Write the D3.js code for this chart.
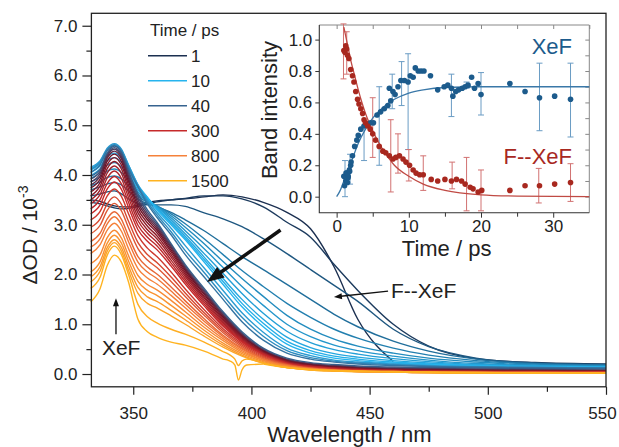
<!DOCTYPE html>
<html>
<head>
<meta charset="utf-8">
<script src="https://cdn.jsdelivr.net/npm/d3@7"></script>
<style>
body { margin: 0; background: #fff; }
svg { font-family: "Liberation Sans", Arial, sans-serif; }
</style>
</head>
<body>
<svg id="chart"></svg>
<script>
// ---- main panel: transient spectra ----
let wavelengths = [332, 336, 339, 342, 345, 348, 352, 356, 360, 366, 372, 380, 388, 396, 405, 415, 425, 435, 445, 460, 475, 495, 520, 550]

let delays = [1, 1.2, 2,
    3, 4, 5, 6, 7, 8, 9, 10, 15, 20, 30,
    40, 50, 65, 80, 100, 125, 150, 180, 220, 260, 300,
    350, 420, 500, 600, 700, 800,
    900, 1000, 1100, 1250, 1400, 1500]

let spectra = [
    [3.50,3.47,3.42,3.38,3.36,3.36,3.40,3.45,3.48,3.50,3.52,3.56,3.60,3.56,3.45,3.25,2.92,2.15,1.10,0.25,null,null,null,null],
    [3.45,3.42,3.38,3.34,3.32,3.33,3.37,3.42,3.46,3.50,3.53,3.58,3.58,3.52,3.36,3.05,2.75,2.20,1.68,1.00,0.56,0.31,0.23,0.20],
    [3.58,3.62,3.66,3.68,3.62,3.52,3.43,3.40,3.40,3.40,3.37,3.24,3.12,2.96,2.72,2.42,2.10,1.78,1.46,0.90,0.55,0.32,0.22,0.19],
    [3.70,3.76,3.82,3.85,3.80,3.68,3.52,3.42,3.36,3.25,3.10,2.88,2.62,2.36,2.10,1.80,1.50,1.20,0.95,0.66,0.46,0.30,0.21,0.18],
    [3.78,3.86,3.95,3.98,3.92,3.78,3.58,3.45,3.38,3.22,3.02,2.72,2.40,2.08,1.76,1.42,1.14,0.90,0.72,0.52,0.38,0.27,0.20,0.17],
    [3.86,3.96,4.08,4.12,4.05,3.88,3.62,3.48,3.38,3.18,2.95,2.62,2.26,1.92,1.56,1.18,0.90,0.70,0.56,0.42,0.32,0.24,0.18,0.16],
    [3.93,4.05,4.20,4.25,4.16,3.96,3.66,3.50,3.37,3.14,2.88,2.52,2.14,1.76,1.38,1.00,0.75,0.58,0.47,0.36,0.28,0.21,0.17,0.15],
    [3.99,4.12,4.29,4.35,4.26,4.04,3.70,3.52,3.36,3.10,2.82,2.42,2.02,1.62,1.22,0.86,0.63,0.49,0.40,0.31,0.25,0.19,0.16,0.14],
    [4.05,4.18,4.37,4.44,4.34,4.10,3.74,3.54,3.34,3.06,2.77,2.35,1.92,1.50,1.10,0.74,0.53,0.41,0.34,0.27,0.22,0.18,0.15,0.14],
    [4.10,4.23,4.44,4.52,4.42,4.15,3.77,3.55,3.32,3.03,2.73,2.30,1.86,1.42,1.02,0.66,0.47,0.36,0.30,0.24,0.20,0.17,0.14,0.13],
    [4.14,4.27,4.51,4.60,4.49,4.20,3.80,3.55,3.30,3.00,2.70,2.25,1.80,1.35,0.95,0.60,0.42,0.32,0.27,0.22,0.19,0.16,0.14,0.13],
    [4.16,4.29,4.54,4.63,4.52,4.20,3.80,3.50,3.25,2.93,2.58,2.13,1.68,1.23,0.84,0.52,0.37,0.28,0.24,0.20,0.17,0.15,0.13,0.12],
    [4.12,4.26,4.52,4.61,4.50,4.17,3.78,3.46,3.20,2.86,2.48,2.04,1.58,1.14,0.76,0.47,0.33,0.26,0.22,0.19,0.16,0.14,0.13,0.12],
    [4.06,4.21,4.49,4.59,4.47,4.13,3.76,3.42,3.15,2.80,2.40,1.95,1.50,1.05,0.68,0.42,0.30,0.24,0.20,0.17,0.15,0.14,0.13,0.12],
    [3.98,4.12,4.44,4.58,4.45,4.08,3.62,3.30,3.05,2.62,2.20,1.72,1.25,0.85,0.52,0.32,0.23,0.19,0.16,0.14,0.13,0.12,0.11,0.10],
    [3.92,4.08,4.41,4.55,4.41,4.03,3.56,3.25,3.01,2.59,2.17,1.69,1.22,0.82,0.50,0.30,0.21,0.17,0.14,0.12,0.11,0.10,0.09,0.08],
    [3.86,4.03,4.38,4.52,4.37,3.98,3.50,3.20,2.97,2.56,2.14,1.66,1.19,0.80,0.48,0.29,0.20,0.16,0.13,0.11,0.10,0.09,0.08,0.07],
    [3.80,3.98,4.34,4.48,4.33,3.93,3.44,3.15,2.93,2.53,2.11,1.63,1.17,0.78,0.47,0.28,0.19,0.15,0.12,0.10,0.09,0.08,0.07,0.06],
    [3.74,3.92,4.28,4.42,4.27,3.87,3.38,3.10,2.89,2.49,2.08,1.60,1.14,0.76,0.46,0.27,0.18,0.14,0.11,0.09,0.08,0.07,0.06,0.06],
    [3.66,3.85,4.21,4.35,4.20,3.80,3.31,3.04,2.84,2.45,2.04,1.56,1.11,0.74,0.44,0.26,0.17,0.13,0.10,0.08,0.07,0.06,0.06,0.05],
    [3.58,3.78,4.13,4.27,4.12,3.72,3.24,2.97,2.78,2.40,2.00,1.53,1.08,0.72,0.43,0.25,0.16,0.12,0.10,0.08,0.07,0.06,0.05,0.05],
    [3.50,3.70,4.04,4.18,4.03,3.64,3.16,2.90,2.72,2.35,1.96,1.49,1.05,0.70,0.42,0.24,0.16,0.12,0.09,0.07,0.06,0.05,0.05,0.04],
    [3.42,3.61,3.94,4.08,3.93,3.55,3.08,2.83,2.65,2.29,1.91,1.45,1.02,0.68,0.41,0.23,0.15,0.11,0.09,0.07,0.06,0.05,0.04,0.04],
    [3.32,3.51,3.83,3.97,3.82,3.45,2.99,2.75,2.58,2.23,1.86,1.41,0.99,0.66,0.40,0.22,0.15,0.11,0.08,0.07,0.06,0.05,0.04,0.04],
    [3.22,3.40,3.72,3.86,3.71,3.35,2.90,2.67,2.50,2.17,1.81,1.37,0.96,0.64,0.39,0.22,0.14,0.10,0.08,0.06,0.05,0.04,0.04,0.03],
    [3.10,3.27,3.58,3.72,3.57,3.22,2.78,2.53,2.36,2.05,1.71,1.29,0.91,0.61,0.37,0.21,0.13,0.09,0.07,0.05,0.04,0.04,0.03,0.03],
    [2.95,3.12,3.42,3.56,3.41,3.07,2.64,2.40,2.24,1.95,1.63,1.23,0.87,0.58,0.35,0.20,0.12,0.09,0.07,0.05,0.04,0.04,0.03,0.03],
    [2.82,2.99,3.29,3.43,3.28,2.94,2.52,2.29,2.14,1.86,1.56,1.18,0.83,0.55,0.33,0.19,0.12,0.08,0.06,0.05,0.04,0.03,0.03,0.03],
    [2.66,2.83,3.12,3.26,3.11,2.77,2.36,2.15,2.01,1.75,1.47,1.11,0.78,0.52,0.31,0.18,0.11,0.08,0.06,0.05,0.04,0.03,0.03,0.02],
    [2.55,2.72,3.02,3.16,3.00,2.66,2.25,2.05,1.92,1.67,1.40,1.06,0.75,0.50,0.30,0.17,0.11,0.08,0.06,0.04,0.04,0.03,0.03,0.02],
    [2.42,2.60,2.89,3.03,2.87,2.52,2.12,1.93,1.81,1.58,1.33,1.00,0.71,0.47,0.28,0.16,0.10,0.07,0.05,0.04,0.03,0.03,0.02,0.02],
    [2.22,2.40,2.74,2.89,2.73,2.38,1.98,1.80,1.69,1.48,1.25,0.94,0.67,0.44,0.27,0.15,0.10,0.07,0.05,0.04,0.03,0.03,0.02,0.02],
    [2.05,2.26,2.63,2.79,2.63,2.27,1.86,1.68,1.58,1.38,1.17,0.88,0.62,0.41,0.25,0.14,0.09,0.07,0.05,0.04,0.03,0.02,0.02,0.02],
    [1.95,2.16,2.54,2.70,2.54,2.17,1.74,1.55,1.46,1.28,1.09,0.82,0.58,0.38,0.23,0.13,0.09,0.06,0.05,0.04,0.03,0.02,0.02,0.02],
    [1.85,2.07,2.47,2.64,2.47,2.08,1.62,1.42,1.33,1.17,1.00,0.76,0.54,0.36,0.22,0.13,0.08,0.06,0.05,0.04,0.03,0.02,0.02,0.02],
    [1.72,1.95,2.39,2.57,2.40,2.00,1.40,1.15,1.03,0.90,0.80,0.64,0.45,null,0.22,0.13,0.08,0.06,0.05,0.04,0.03,0.02,0.02,0.02],
    [1.45,1.72,2.18,2.39,2.25,1.85,1.10,0.85,0.74,0.64,0.58,0.46,0.30,null,0.20,0.13,0.09,0.07,0.06,0.05,0.04,0.03,0.02,0.02]
]

// scatter artefact near 395 nm in the two last spectra
let dipWavelengths = [388, 391, 393, 394.5, 396, 398, 405]
let dipDelays = [1400, 1500]
let dipValues = [
    [0.45,0.38,0.30,0.17,0.26,0.30,0.22],
    [0.30,0.26,0.18,-0.12,0.08,0.18,0.20]
]

let legendTimes = [1, 10, 40, 300, 800, 1500]
let xTicks = [350, 400, 450, 500, 550]
let xMinor = [375, 425, 475, 525]
let yTicks = [0, 1, 2, 3, 4, 5, 6, 7]
let yMinor = [0.5, 1.5, 2.5, 3.5, 4.5, 5.5, 6.5]

// ---- inset: band intensities ----
let xefTime = [1.0,1.1,1.26,1.3,1.4,1.5,1.58,1.6,1.77,1.8,1.95,2.0,2.2,2.5,2.8,3.0,3.35,3.8,4.3,4.7,5.1,5.6,6.1,6.6,7.1,7.3,7.5,7.8,8.1,8.5,8.9,9.4,9.9,10.2,10.6,10.9,11.3,11.7,12.1,13.0,14.0,14.9,15.4,15.9,16.1,16.5,16.9,17.4,17.8,18.2,18.7,19.1,19.6,20.0,24.0,26.1,28.1,30.2,32.4]
let xefValue = [0.13,0.07,0.10,0.15,0.15,0.09,0.12,0.13,0.17,0.16,0.20,0.22,0.26,0.32,0.36,0.39,0.43,0.45,0.46,0.47,0.47,0.52,0.54,0.56,0.58,0.69,0.61,0.67,0.65,0.70,0.74,0.74,0.73,0.77,0.76,0.82,0.80,0.80,0.80,0.77,0.68,0.70,0.71,0.69,0.64,0.67,0.68,0.69,0.70,0.71,0.76,0.69,0.72,0.65,0.72,0.67,0.63,0.64,0.62]
let xefErrTime = [1.16, 1.86, 3.8, 5.9, 7.7, 9.0, 9.9, 15.9, 18.0, 20.0, 28.1, 32.4]
let xefErrLow = [0.00, 0.08, 0.23, 0.20, 0.56, 0.58, 0.30, 0.51, 0.69, 0.52, 0.42, 0.38]
let xefErrHigh = [0.23, 0.27, 0.45, 0.70, 0.78, 0.86, 0.91, 0.78, 0.73, 0.79, 0.85, 0.85]
let xefFitTime = [0, 0.5, 1, 1.5, 2, 3, 4, 5, 6, 7, 8, 10, 12, 15, 20, 25, 35]
let xefFitValue = [0, 0.04, 0.10, 0.17, 0.22, 0.34, 0.43, 0.50, 0.55, 0.59, 0.62, 0.66, 0.68, 0.695, 0.70, 0.70, 0.70]

let fxefTime = [1.0,1.15,1.26,1.4,1.5,1.7,1.95,2.2,2.4,2.65,2.9,3.1,3.35,3.6,3.8,4.0,4.3,4.65,5.0,5.4,5.9,6.4,6.8,7.3,7.8,8.2,8.7,9.2,9.6,10.1,10.6,11.0,11.5,12.0,13.1,14.0,15.0,15.9,16.6,17.3,17.8,18.5,18.9,19.6,20.1,24.0,26.1,28.1,30.2,32.4]
let fxefValue = [0.93,0.92,0.96,0.94,0.90,0.88,0.81,0.77,0.73,0.67,0.62,0.59,0.56,0.53,0.49,0.47,0.45,0.43,0.40,0.36,0.32,0.29,0.28,0.26,0.24,0.25,0.26,0.24,0.22,0.20,0.17,0.15,0.14,0.14,0.11,0.10,0.11,0.10,0.11,0.10,0.08,0.06,0.05,0.03,0.04,0.04,0.07,0.07,0.08,0.09]
let fxefErrTime = [0.95, 1.4, 5.0, 7.5, 8.5, 10.0, 12.0, 16.0, 18.0, 20.0, 28.0, 32.4]
let fxefErrLow = [0.75, 0.78, 0.25, 0.03, 0.15, 0.10, 0.04, 0.05, -0.09, -0.09, -0.04, -0.03]
let fxefErrHigh = [1.10, 1.05, 0.63, 0.49, 0.40, 0.30, 0.26, 0.22, 0.25, 0.17, 0.18, 0.21]
let fxefFitTime = [1, 1.5, 2, 2.5, 3, 3.5, 4, 5, 6, 7, 8, 10, 12, 15, 20, 25, 35]
let fxefFitValue = [1.08, 0.97, 0.86, 0.77, 0.68, 0.60, 0.53, 0.42, 0.33, 0.26, 0.20, 0.13, 0.08, 0.04, 0.012, 0.004, 0.0]

let insetXTicks = [0, 10, 20, 30]
let insetXMinor = [5, 15, 25]
let insetYTicks = [0, 0.2, 0.4, 0.6, 0.8, 1.0]

let width = 619
let height = 447

let svg = d3.select("#chart").attr("width", width).attr("height", height)

let xScale = d3.scaleLinear().domain([332.3, 550]).range([91.4, 606])
let yScale = d3.scaleLinear().domain([-0.257, 7.25]).range([386.8, 13.3])

let colorScale = d3.scaleLog()
    .domain([1, 10, 40, 100, 300, 800, 1500])
    .range(["#1b2f50", "#26b4ee", "#36638f", "#6e1428", "#c62a2b", "#f5813a", "#ffb320"])

let specLine = d3.line()
    .defined(d => d[1] != null)
    .x(d => xScale(d[0]))
    .y(d => yScale(d[1]))
    .curve(d3.curveMonotoneX)

let drawSpectra = () => {
    let g = svg.append("g")
    spectra.forEach((s, i) => {
        g.append("path")
            .datum(wavelengths.map((w, j) => [w, s[j]]))
            .attr("d", specLine)
            .attr("fill", "none")
            .attr("stroke", colorScale(delays[i]))
            .attr("stroke-width", 1.4)
    })
    dipValues.forEach((s, i) => {
        g.append("path")
            .datum(dipWavelengths.map((w, j) => [w, s[j]]))
            .attr("d", specLine)
            .attr("fill", "none")
            .attr("stroke", colorScale(dipDelays[i]))
            .attr("stroke-width", 1.4)
    })
}

let drawMainAxes = () => {
    let styleAxis = (sel) => {
        sel.select(".domain").remove()
        sel.selectAll("line").attr("stroke", "#222").attr("stroke-width", 1.2)
        sel.selectAll("text").attr("fill", "#222").style("font-size", "17px")
    }
    svg.append("g")
        .attr("transform", "translate(0," + yScale.range()[0] + ")")
        .call(d3.axisBottom(xScale).tickValues(xTicks).tickSize(8).tickPadding(12).tickFormat(d3.format("d")))
        .call(styleAxis)
        .selectAll("text")
        .filter(d => d === 550)
        .attr("dx", -4)
    svg.append("g")
        .attr("transform", "translate(0," + yScale.range()[0] + ")")
        .call(d3.axisBottom(xScale).tickValues(xMinor).tickSize(5).tickFormat(""))
        .call(styleAxis)
    svg.append("g")
        .attr("transform", "translate(" + xScale.range()[0] + ",0)")
        .call(d3.axisLeft(yScale).tickValues(yTicks).tickSize(9).tickPadding(5).tickFormat(d3.format(".1f")))
        .call(styleAxis)
    svg.append("g")
        .attr("transform", "translate(" + xScale.range()[0] + ",0)")
        .call(d3.axisLeft(yScale).tickValues(yMinor).tickSize(5).tickFormat(""))
        .call(styleAxis)

    svg.append("rect")
        .attr("x", xScale.range()[0])
        .attr("y", yScale.range()[1])
        .attr("width", xScale.range()[1] - xScale.range()[0])
        .attr("height", yScale.range()[0] - yScale.range()[1])
        .attr("fill", "none")
        .attr("stroke", "#222")
        .attr("stroke-width", 1.3)

    svg.append("text")
        .text("Wavelength / nm")
        .attr("x", 349.5)
        .attr("y", 441.5)
        .attr("text-anchor", "middle")
        .style("font-size", "22px")
        .attr("fill", "#222")

    let yl = svg.append("text")
        .attr("transform", "translate(36.7,235) rotate(-90)")
        .attr("text-anchor", "middle")
        .style("font-size", "21px")
        .attr("fill", "#222")
    yl.append("tspan").text("\u0394OD / 10")
    yl.append("tspan").text("-3").attr("dy", -9).style("font-size", "14px")
}

let drawLegend = () => {
    let legend = svg.append("g")
    legend.append("text")
        .text("Time / ps")
        .attr("x", 150)
        .attr("y", 36)
        .style("font-size", "17px")
        .attr("fill", "#222")
    legendTimes.forEach((t, i) => {
        let y = 55.7 + i * 25
        legend.append("line")
            .attr("x1", 148).attr("x2", 187)
            .attr("y1", y).attr("y2", y)
            .attr("stroke", colorScale(t))
            .attr("stroke-width", 1.6)
        legend.append("text")
            .text(t)
            .attr("x", 191)
            .attr("y", y + 6)
            .style("font-size", "17px")
            .attr("fill", "#222")
    })
}

let arrow = (x1, y1, x2, y2, w, headLen, headW) => {
    let dx = x2 - x1, dy = y2 - y1
    let len = Math.sqrt(dx * dx + dy * dy)
    let ux = dx / len, uy = dy / len
    let bx = x2 - ux * headLen, by = y2 - uy * headLen
    svg.append("line")
        .attr("x1", x1).attr("y1", y1)
        .attr("x2", bx + ux * 1).attr("y2", by + uy * 1)
        .attr("stroke", "#111")
        .attr("stroke-width", w)
    svg.append("path")
        .attr("d", "M" + x2 + "," + y2
            + "L" + (bx - uy * headW / 2) + "," + (by + ux * headW / 2)
            + "L" + (bx + uy * headW / 2) + "," + (by - ux * headW / 2) + "Z")
        .attr("fill", "#111")
}

let drawAnnotations = () => {
    arrow(xScale(412.3), yScale(2.894), xScale(381.2), yScale(1.849), 3.5, 17, 13)
    arrow(xScale(457.8), yScale(1.668), xScale(434.9), yScale(1.547), 1.3, 8, 6)
    svg.append("text")
        .text("F--XeF")
        .attr("x", xScale(459))
        .attr("y", yScale(1.527))
        .style("font-size", "21px")
        .attr("fill", "#222")
    arrow(xScale(342.7), yScale(0.8), xScale(342.7), yScale(1.521), 1.3, 8, 6)
    svg.append("text")
        .text("XeF")
        .attr("x", xScale(344.9))
        .attr("y", yScale(0.38))
        .attr("text-anchor", "middle")
        .style("font-size", "21px")
        .attr("fill", "#222")
}

// ---- inset ----
let ix = d3.scaleLinear().domain([-2.4, 35]).range([319.3, 589.3])
let iy = d3.scaleLinear().domain([-0.102, 1.093]).range([212.7, 25])

let drawInset = () => {
    let g = svg.append("g")
    let blue = "#1c5b8c", blueLight = "#6a9cc4"
    let red = "#a8281f", redLight = "#d27272"

    let styleAxis = (sel, col) => {
        sel.select(".domain").remove()
        sel.selectAll("line").attr("stroke", col).attr("stroke-width", 1)
        sel.selectAll("text").attr("fill", "#222").style("font-size", "17px")
    }
    g.append("g")
        .attr("transform", "translate(0,212.7)")
        .call(d3.axisBottom(ix).tickValues(insetXTicks).tickSize(5).tickPadding(2))
        .call(styleAxis, "#333")
    g.append("g")
        .attr("transform", "translate(0,212.7)")
        .call(d3.axisBottom(ix).tickValues(insetXMinor).tickSize(4).tickFormat(""))
        .call(styleAxis, "#333")
    g.append("g")
        .attr("transform", "translate(0,25)")
        .call(d3.axisBottom(ix).tickValues(d3.range(0, 36, 5)).tickSize(4).tickFormat(""))
        .call(styleAxis, "#888")
    g.append("g")
        .attr("transform", "translate(319.3,0)")
        .call(d3.axisLeft(iy).tickValues(insetYTicks).tickSize(4).tickPadding(3).tickFormat(d3.format(".1f")))
        .call(styleAxis, "#333")
    g.append("g")
        .attr("transform", "translate(589.3,0)")
        .call(d3.axisLeft(iy).tickValues(d3.range(0, 1.05, 0.1)).tickSize(4).tickFormat(""))
        .call(styleAxis, "#888")

    g.append("path")
        .attr("d", "M319.3,25H589.3V212.7")
        .attr("fill", "none").attr("stroke", "#888").attr("stroke-width", 1)
    g.append("path")
        .attr("d", "M319.3,25V212.7H589.3")
        .attr("fill", "none").attr("stroke", "#333").attr("stroke-width", 1.1)

    let errBars = (ts, lo, hi, col) => {
        ts.forEach((t, i) => {
            let x = ix(t)
            g.append("line").attr("x1", x).attr("x2", x)
                .attr("y1", iy(lo[i])).attr("y2", iy(hi[i]))
                .attr("stroke", col).attr("stroke-width", 1)
            ;[lo[i], hi[i]].forEach(v => {
                g.append("line").attr("x1", x - 3).attr("x2", x + 3)
                    .attr("y1", iy(v)).attr("y2", iy(v))
                    .attr("stroke", col).attr("stroke-width", 1)
            })
        })
    }
    errBars(xefErrTime, xefErrLow, xefErrHigh, blueLight)
    errBars(fxefErrTime, fxefErrLow, fxefErrHigh, redLight)

    let fit = d3.line().x(d => ix(d[0])).y(d => iy(d[1])).curve(d3.curveMonotoneX)
    g.append("path")
        .datum(xefFitTime.map((t, i) => [t, xefFitValue[i]]))
        .attr("d", fit).attr("fill", "none").attr("stroke", "#3a78a8").attr("stroke-width", 1.3)
    g.append("path")
        .datum(fxefFitTime.map((t, i) => [t, fxefFitValue[i]]))
        .attr("d", fit).attr("fill", "none").attr("stroke", "#c04a44").attr("stroke-width", 1.3)

    g.selectAll(".xef")
        .data(xefTime)
        .enter()
        .append("circle")
        .attr("cx", (d) => ix(d))
        .attr("cy", (d, i) => iy(xefValue[i]))
        .attr("r", 2.8)
        .attr("fill", blue)
    g.selectAll(".fxef")
        .data(fxefTime)
        .enter()
        .append("circle")
        .attr("cx", (d) => ix(d))
        .attr("cy", (d, i) => iy(fxefValue[i]))
        .attr("r", 2.8)
        .attr("fill", red)

    g.append("text").text("XeF")
        .attr("x", 572).attr("y", 54).attr("text-anchor", "end")
        .style("font-size", "22px").attr("fill", blue)
    g.append("text").text("F--XeF")
        .attr("x", 572).attr("y", 163.5).attr("text-anchor", "end")
        .style("font-size", "22px").attr("fill", red)

    g.append("text").text("Time / ps")
        .attr("x", 446.6).attr("y", 256).attr("text-anchor", "middle")
        .style("font-size", "22px").attr("fill", "#222")
    g.append("text").text("Band intensity")
        .attr("transform", "translate(277,110) rotate(-90)")
        .attr("text-anchor", "middle")
        .style("font-size", "22px").attr("fill", "#222")
}

drawSpectra()
drawMainAxes()
drawLegend()
drawAnnotations()
drawInset()
</script>
</body>
</html>
